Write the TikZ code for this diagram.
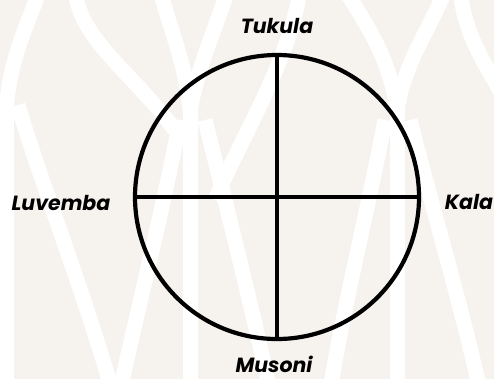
\documentclass[tikz,border=0pt]{standalone}
\usepackage{fontspec}
\setmainfont{Poppins}
\definecolor{bgbeige}{HTML}{F6F2EE}
\tikzset{
  band/.style={white, line width=15bp, line cap=butt},
  lbl/.style={font=\fontsize{20.5bp}{24bp}\selectfont\bfseries\itshape, text=black, inner sep=0pt, anchor=base},
  ring/.style={circle, draw=black, line width=4.2bp, minimum size=284bp, inner sep=0pt},
  spoke/.style={black, line width=3.8bp}
}
\begin{document}
\begin{tikzpicture}[x=1bp,y=-1bp]
\fill[bgbeige] (0,0) rectangle (494,379);
\useasboundingbox (0,0) rectangle (494,379);
\begin{scope}
\clip (0,0) rectangle (494,379);
% vertical stems
\draw[band] (6,105) -- (6,390);
\draw[band] (190,105) -- (190,390);
\draw[band] (397,105) -- (397,390);
% Y arms
\draw[band] (6,110) .. controls (10,60) and (25,30) .. (40,-10);
\draw[band] (190,110) .. controls (185,60) and (170,30) .. (160,-10);
\draw[band] (190,110) .. controls (200,60) and (215,30) .. (228,-10);
\draw[band] (397,110) .. controls (390,60) and (370,30) .. (345,-10);
\draw[band] (397,110) .. controls (405,60) and (430,30) .. (445,-10);
% diagonals downwards
\draw[band] (18,105) .. controls (40,180) and (80,280) .. (112,390);
\draw[band] (180,120) .. controls (165,200) and (140,300) .. (120,390);
\draw[band] (205,120) .. controls (225,200) and (250,300) .. (270,390);
\draw[band] (385,120) .. controls (370,200) and (345,300) .. (330,390);
\draw[band] (410,120) .. controls (430,200) and (460,300) .. (480,390);
% S-curves
\draw[band] (75,-10) .. controls (80,40) and (130,70) .. (175,130);
\draw[band] (300,-10) .. controls (290,60) and (240,140) .. (215,200);
\draw[band] (460,-10) .. controls (465,40) and (490,70) .. (505,100);
\end{scope}
\node[ring] (c) at (277,197) {};
\draw[spoke] (c.north) -- (c.south);
\draw[spoke] (c.west) -- (c.east);
\node[lbl] (t) at (277,33) {Tukula};
\node[lbl] (l) at (61,210) {Luvemba};
\node[lbl] (k) at (469,209) {Kala};
\node[lbl] (m) at (274,372) {Musoni};
\end{tikzpicture}
\end{document}
